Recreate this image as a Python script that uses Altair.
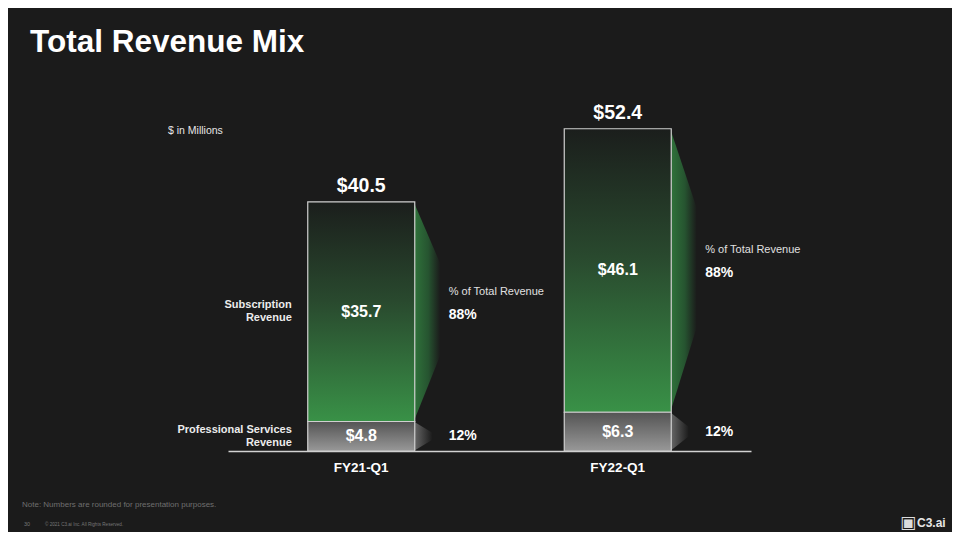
import altair as alt
import pandas as pd

# ---------------- data ----------------
quarters = ["FY21-Q1", "FY22-Q1"]
subscription = [35.7, 46.1]
professional = [4.8, 6.3]
total = [40.5, 52.4]
pct_subscription = ["88%", "88%"]
pct_professional = ["12%", "12%"]
segment_labels = ["Subscription\nRevenue", "Professional Services\nRevenue"]

# ---------------- layout / style constants ----------------
BG = "#1b1b1b"
FONT = "Liberation Sans"
STEP_PX = 261.5
BAR_PX = 107
BAR_HALF = BAR_PX / 2 / STEP_PX
FUN_W = 27 / STEP_PX
FUN_PW = 19 / STEP_PX
PLOT_W, PLOT_H = 523, 369

df = pd.DataFrame({
    "quarter": quarters,
    "idx": [float(i) for i in range(1, len(quarters) + 1)],
    "sub": subscription,
    "prof": professional,
    "total": total,
    "psub": pct_subscription,
    "pprof": pct_professional,
})
df["sub_mid"] = df["prof"] + df["sub"] / 2
df["prof_mid"] = df["prof"] / 2
df["total_lab"] = df["total"].map(lambda v: f"${v:.1f}")
df["sub_lab"] = df["sub"].map(lambda v: f"${v:.1f}")
df["prof_lab"] = df["prof"].map(lambda v: f"${v:.1f}")
df["hdr"] = "% of Total Revenue"

fun_rows, pfun_rows = [], []
for q, i, s, p, t in zip(quarters, df["idx"], subscription, professional, total):
    edge = float(i) + BAR_HALF
    fun_rows.append({"quarter": q, "fx": edge, "yt": t, "yb": p})
    fun_rows.append({"quarter": q, "fx": edge + FUN_W, "yt": t - 0.28 * s, "yb": p + 0.30 * s})
    pfun_rows.append({"quarter": q, "fx": edge, "yt": p, "yb": 0.0})
    pfun_rows.append({"quarter": q, "fx": edge + FUN_PW, "yt": p * 0.62, "yb": p * 0.38})
fun = pd.DataFrame(fun_rows)
pfun = pd.DataFrame(pfun_rows)

left = pd.DataFrame({
    "idx": [1.0, 1.0],
    "y": [df["sub_mid"].iloc[0], df["prof_mid"].iloc[0]],
    "label": segment_labels,
})

XS = alt.Scale(domain=[0.5, len(quarters) + 0.5], nice=False, zero=False)
YS = alt.Scale(domain=[0, 60], nice=False)
XAX = alt.Axis(labels=False, ticks=False, grid=False, title=None,
               domainColor="#d2d2d2", domainWidth=1.5)


def X(f):
    return alt.X(f, type="quantitative", scale=XS, axis=XAX)


def Y(f):
    return alt.Y(f, type="quantitative", scale=YS, axis=None)


def grad(stops, x2=0, y2=1):
    return alt.LinearGradient(
        gradient="linear", x1=0, y1=0, x2=x2, y2=y2,
        stops=[alt.GradientStop(color=c, offset=o) for o, c in stops])


base = alt.Chart(df)

funnel_sub = alt.Chart(fun).mark_area(
    orient="vertical", interpolate="linear",
    fill=grad([(0, "#30743b"), (0.55, "#265430"), (1, BG)], x2=1, y2=0)
).encode(x=X("fx"), y=Y("yt"), y2=alt.Y2("yb"), detail="quarter:N")

funnel_prof = alt.Chart(pfun).mark_area(
    orient="vertical", interpolate="linear",
    fill=grad([(0, "#6a6a6a"), (1, BG)], x2=1, y2=0)
).encode(x=X("fx"), y=Y("yt"), y2=alt.Y2("yb"), detail="quarter:N")

bar_sub = base.mark_bar(
    width=BAR_PX, stroke="#d0d0d0", strokeWidth=1.2,
    fill=grad([(0, "#1b1e1c"), (0.45, "#29492e"), (1, "#399147")])
).encode(x=X("idx"), y=Y("total"), y2="prof")

bar_prof = base.mark_bar(
    width=BAR_PX, stroke="#d0d0d0", strokeWidth=1.2,
    fill=grad([(0, "#545454"), (1, "#989898")])
).encode(x=X("idx"), y=Y("prof"), y2=alt.datum(0))

txt_total = base.mark_text(font=FONT, fontSize=19.5, fontWeight="bold", color="white",
                           baseline="alphabetic", dy=-10).encode(
    x=X("idx"), y=Y("total"), text="total_lab:N")
txt_sub = base.mark_text(font=FONT, fontSize=16, fontWeight="bold", color="white",
                         baseline="middle").encode(
    x=X("idx"), y=Y("sub_mid"), text="sub_lab:N")
txt_prof = base.mark_text(font=FONT, fontSize=16, fontWeight="bold", color="white",
                          baseline="middle").encode(
    x=X("idx"), y=Y("prof_mid"), text="prof_lab:N")

PDX = BAR_PX / 2 + 34
txt_hdr = base.mark_text(font=FONT, fontSize=11, color="#e0e0e0", align="left",
                         baseline="middle", dx=PDX, dy=-20).encode(
    x=X("idx"), y=Y("sub_mid"), text="hdr:N")
txt_psub = base.mark_text(font=FONT, fontSize=14, fontWeight="bold", color="white",
                          align="left", baseline="middle", dx=PDX, dy=3).encode(
    x=X("idx"), y=Y("sub_mid"), text="psub:N")
txt_pprof = base.mark_text(font=FONT, fontSize=14, fontWeight="bold", color="white",
                           align="left", baseline="middle", dx=PDX, dy=0).encode(
    x=X("idx"), y=Y("prof_mid"), text="pprof:N")

txt_left = alt.Chart(left).mark_text(
    font=FONT, fontSize=11, fontWeight="bold", color="#ececec", align="right",
    baseline="middle", lineBreak="\n", lineHeight=13, dx=-(BAR_PX / 2 + 16), dy=-6.5
).encode(x=X("idx"), y=Y("y"), text="label:N")

txt_cat = base.mark_text(font=FONT, fontSize=13.5, fontWeight="bold", color="white",
                         baseline="middle", dy=17).encode(
    x=X("idx"), y=Y("zero"), text="quarter:N"
).transform_calculate(zero="0")


def note(text, x, y, size, color, weight="normal", font=FONT):
    return alt.Chart(pd.DataFrame({"t": [text]})).mark_text(
        font=font, fontSize=size, fontWeight=weight, color=color,
        align="left", baseline="alphabetic"
    ).encode(x=alt.value(x), y=alt.value(y), text="t:N")


ox, oy = 228, 82   # page position of the plot origin
notes = [
    note("Total Revenue Mix", 30 - ox, 52 - oy, 31.5, "white", "bold"),
    note("$ in Millions", 168 - ox, 134 - oy, 10.5, "#e6e6e6"),
    note("Note: Numbers are rounded for presentation purposes.", 22 - ox, 507 - oy, 8, "#6f6f6f"),
    note("30", 24 - ox, 526 - oy, 5.5, "#777777"),
    note("\u00a9 2021 C3.ai Inc. All Rights Reserved.", 45 - ox, 526 - oy, 4.6, "#777777"),
    note("\u25a3", 900 - ox, 528 - oy, 17, "#dddddd", font="DejaVu Sans"),
    note("C3.ai", 917 - ox, 527 - oy, 12, "#e6e6e6", "bold"),
]

chart = alt.layer(
    funnel_sub, funnel_prof, bar_sub, bar_prof,
    txt_total, txt_sub, txt_prof, txt_hdr, txt_psub, txt_pprof,
    txt_left, txt_cat, *notes
).properties(
    width=PLOT_W, height=PLOT_H,
    autosize=alt.AutoSizeParams(type="none"),
    padding={"left": ox - 8, "top": oy - 8, "right": 944 - (ox - 8) - PLOT_W,
             "bottom": 524 - (oy - 8) - PLOT_H},
).configure(background=BG, font=FONT).configure_view(strokeWidth=0)

chart.save("out.html", embed_options={"renderer": "svg", "actions": False})
